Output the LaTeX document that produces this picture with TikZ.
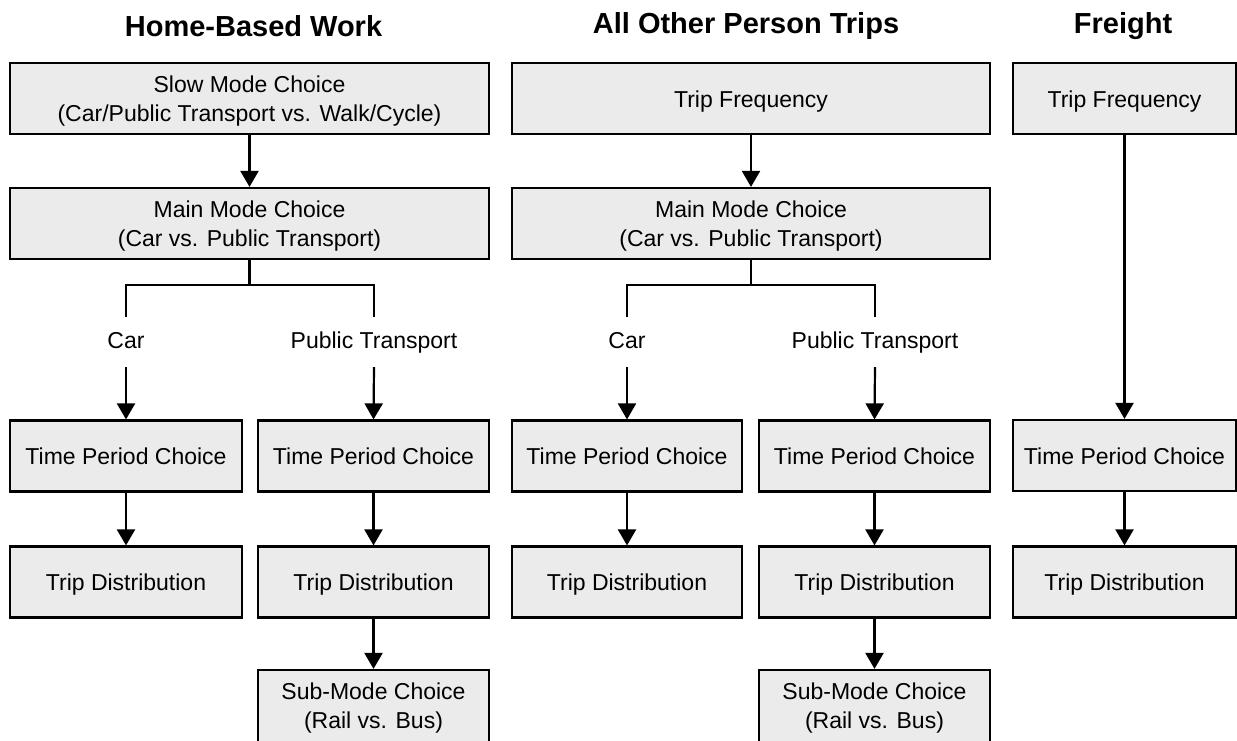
\documentclass[tikz,border=0pt]{standalone}
\usepackage{fontspec}
\setmainfont{Liberation Sans}
\usetikzlibrary{arrows.meta}
\definecolor{boxfill}{RGB}{235,235,235}
% box caption: centred lines, nudged down a little inside the box
\newcommand\stagetext[2][-3pt]{\raisebox{#1}[\height][\depth]{\begin{tabular}{@{}c@{}}#2\end{tabular}}}
\begin{document}
\begin{tikzpicture}[x=1pt,y=-1pt,
  stagebox/.style={draw=black, fill=boxfill, line width=2.2pt, inner sep=0pt,
    minimum height=71pt, font=\fontsize{23}{29}\selectfont},
  branchlabel/.style={inner sep=0pt, minimum height=50pt, text height=16.5pt, text depth=4.5pt,
    font=\fontsize{23}{29}\selectfont},
  heading/.style={inner sep=0pt, font=\fontsize{29}{34}\selectfont\bfseries},
  arr/.style={line width=2.2pt, -{Triangle[length=16pt,width=18pt]}},
  link/.style={line width=2.2pt}]
\useasboundingbox (0,0) rectangle (1237,740);
\clip (0,0) rectangle (1237,740);

% column headings
\node[heading] (hA) at (253.5,26) {Home-Based Work};
\node[heading] (hB) at (746,26) {All Other Person Trips};
\node[heading] (hC) at (1123,26) {Freight};

% ---- Home-Based Work ----
\node[stagebox, minimum width=479pt] (slowA) at (249.5,98.5) {\stagetext{Slow Mode Choice\\(Car/Public Transport vs. Walk/Cycle)}};
\node[stagebox, minimum width=479pt] (mmA) at (249.5,223.5) {\stagetext{Main Mode Choice\\(Car vs. Public Transport)}};
\node[branchlabel] (carA) at (126,342) {Car};
\node[branchlabel] (ptA) at (374,342) {Public Transport};
\node[stagebox, minimum width=232pt] (tpA1) at (126,456) {\stagetext{Time Period Choice}};
\node[stagebox, minimum width=231pt] (tpA2) at (373.5,456) {\stagetext{Time Period Choice}};
\node[stagebox, minimum width=232pt] (tdA1) at (126,582) {\stagetext{Trip Distribution}};
\node[stagebox, minimum width=231pt] (tdA2) at (373.5,582) {\stagetext{Trip Distribution}};
\node[stagebox, minimum width=231pt, minimum height=76pt] (smA) at (373.5,708) {\stagetext[-0.5pt]{Sub-Mode Choice\\(Rail vs. Bus)}};

\draw[arr] (slowA) -- (mmA);
\coordinate (forkA) at (249.5,285);
\draw[link] (mmA.south) -- (forkA);
\draw[link] (carA.north) |- (forkA) -| (ptA.north);
\draw[arr] (carA.south) -- (tpA1.north);
\draw[arr] (ptA.south) -- (tpA2.north);
\draw[arr] (tpA1) -- (tdA1);
\draw[arr] (tpA2) -- (tdA2);
\draw[arr] (tdA2) -- (smA);

% ---- All Other Person Trips ----
\node[stagebox, minimum width=478pt] (tfB) at (751,98.5) {\stagetext{Trip Frequency}};
\node[stagebox, minimum width=478pt] (mmB) at (751,223.5) {\stagetext{Main Mode Choice\\(Car vs. Public Transport)}};
\node[branchlabel] (carB) at (627,342) {Car};
\node[branchlabel] (ptB) at (875,342) {Public Transport};
\node[stagebox, minimum width=230pt] (tpB1) at (627,456) {\stagetext{Time Period Choice}};
\node[stagebox, minimum width=231pt] (tpB2) at (874.5,456) {\stagetext{Time Period Choice}};
\node[stagebox, minimum width=230pt] (tdB1) at (627,582) {\stagetext{Trip Distribution}};
\node[stagebox, minimum width=231pt] (tdB2) at (874.5,582) {\stagetext{Trip Distribution}};
\node[stagebox, minimum width=231pt, minimum height=76pt] (smB) at (874.5,708) {\stagetext[-0.5pt]{Sub-Mode Choice\\(Rail vs. Bus)}};

\draw[arr] (tfB) -- (mmB);
\coordinate (forkB) at (751,285);
\draw[link] (mmB.south) -- (forkB);
\draw[link] (carB.north) |- (forkB) -| (ptB.north);
\draw[arr] (carB.south) -- (tpB1.north);
\draw[arr] (ptB.south) -- (tpB2.north);
\draw[arr] (tpB1) -- (tdB1);
\draw[arr] (tpB2) -- (tdB2);
\draw[arr] (tdB2) -- (smB);

% ---- Freight ----
\node[stagebox, minimum width=223pt] (tfC) at (1124.5,98.5) {\stagetext{Trip Frequency}};
\node[stagebox, minimum width=223pt] (tpC) at (1124.5,455.5) {\stagetext{Time Period Choice}};
\node[stagebox, minimum width=223pt] (tdC) at (1124.5,582) {\stagetext{Trip Distribution}};

\draw[arr] (tfC) -- (tpC);
\draw[arr] (tpC) -- (tdC);
\end{tikzpicture}
\end{document}
